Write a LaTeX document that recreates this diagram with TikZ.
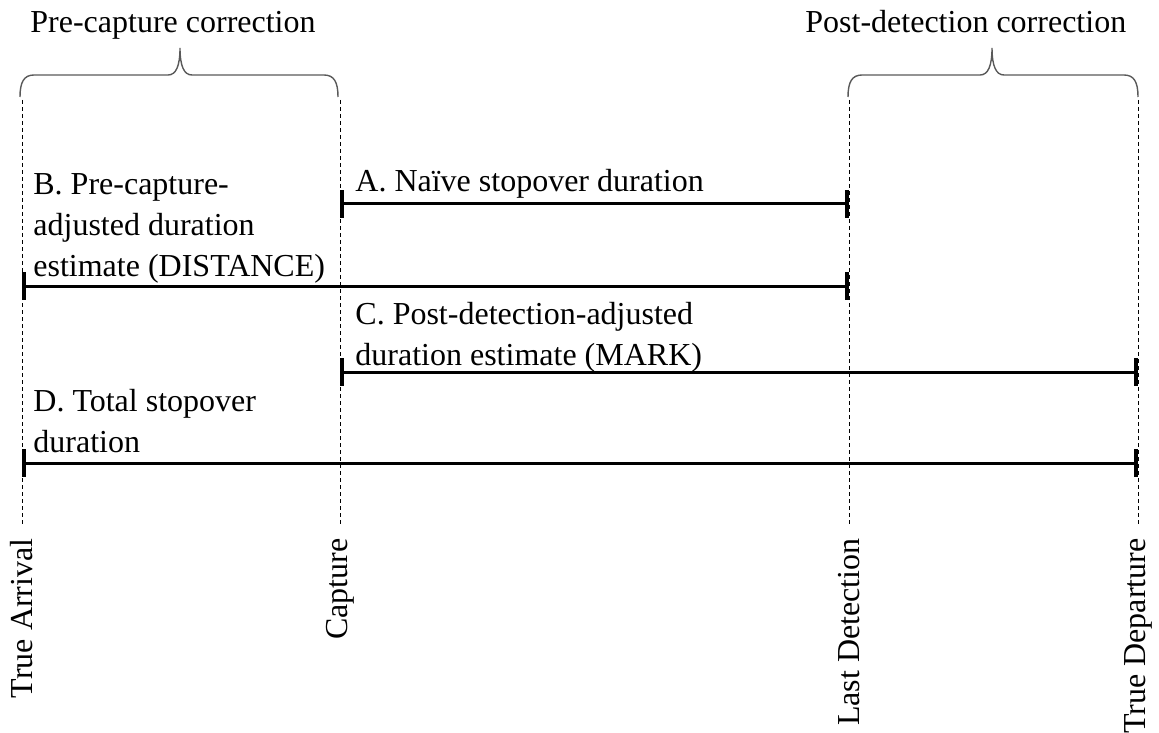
\documentclass[tikz,border=0pt]{standalone}
\usepackage{fontspec}
\setmainfont{Liberation Serif}
\usetikzlibrary{arrows.meta}

\begin{document}
\begin{tikzpicture}[x=0.5pt,y=-0.5pt,
    every node/.style={font=\fontsize{16}{20.5}\selectfont,inner sep=0pt},
    lbl/.style={anchor=base west,align=left},
    timelabel/.style={rotate=90,anchor=east},
    timeline/.style={line width=0.5pt,dash pattern=on 2pt off 1.5pt,shorten >=6.5pt},
    bar/.style={line width=1.5pt,{Bar[width=14pt,line width=2pt]}-{Bar[width=14pt,line width=2pt]}},
    brace/.style={draw=black!65,line width=0.7pt}]
      \useasboundingbox (0,0) rectangle (1159,732);

      % time points
      \coordinate (arr-top) at (22,100);
      \coordinate (cap-top) at (340,100);
      \coordinate (det-top) at (849,100);
      \coordinate (dep-top) at (1138,100);

      \node[timelabel] (arr) at (22,538) {True Arrival};
      \node[timelabel] (cap) at (340,538) {Capture};
      \node[timelabel] (det) at (849,538) {Last Detection};
      \node[timelabel] (dep) at (1138,538) {True Departure};

      \draw[timeline] (arr-top) -- (arr.east);
      \draw[timeline] (cap-top) -- (cap.east);
      \draw[timeline] (det-top) -- (det.east);
      \draw[timeline] (dep-top) -- (dep.east);

      % corrections
      \draw[brace] (20,97) .. controls (20,82) and (24,75) .. (34,75) -- (168,75)
        .. controls (176,75) and (180,66) .. (180,48)
        .. controls (180,66) and (184,75) .. (192,75) -- (324,75)
        .. controls (334,75) and (338,82) .. (338,97);
      \draw[brace] (848,97) .. controls (848,82) and (852,75) .. (862,75) -- (980,75)
        .. controls (988,75) and (992,66) .. (992,48)
        .. controls (992,66) and (996,75) .. (1004,75) -- (1124,75)
        .. controls (1134,75) and (1138,82) .. (1138,97);
      \node[lbl] (precor) at (30,33) {Pre-capture correction};
      \node[lbl] (postcor) at (805,33) {Post-detection correction};

      % duration bars
      \coordinate (rowA) at (0,204);
      \coordinate (rowB) at (0,286);
      \coordinate (rowC) at (0,372);
      \coordinate (rowD) at (0,463);

      \draw[bar] (cap-top |- rowA) -- (det-top |- rowA);
      \draw[bar] (arr-top |- rowB) -- (det-top |- rowB);
      \draw[bar] (cap-top |- rowC) -- (dep-top |- rowC);
      \draw[bar] (arr-top |- rowD) -- (dep-top |- rowD);

      \node[lbl] (durA) at (355,192) {A. Naïve stopover duration};
      \node[lbl] (durB) at (33,277) {B. Pre-capture-\\adjusted duration\\estimate (DISTANCE)};
      \node[lbl] (durC) at (355,365) {C. Post-detection-adjusted\\duration estimate (MARK)};
      \node[lbl] (durD) at (33,452) {D. Total stopover\\duration};
    \end{tikzpicture}
\end{document}
